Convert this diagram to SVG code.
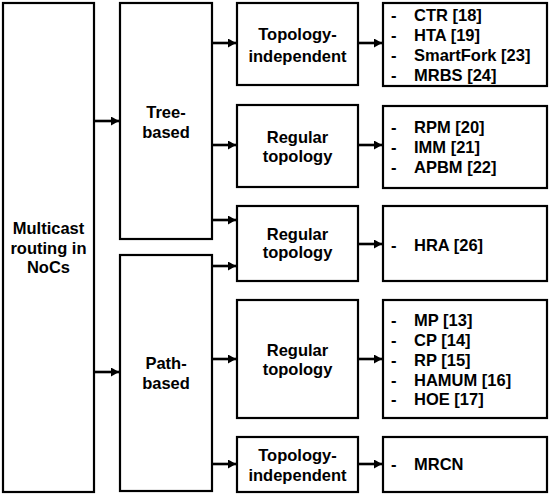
<svg xmlns="http://www.w3.org/2000/svg" width="550" height="494" viewBox="0 0 550 494">
<defs>
<marker id="ah" markerUnits="userSpaceOnUse" markerWidth="8" markerHeight="9" refX="8" refY="4.5" orient="auto">
<path d="M0,0 L8,4.5 L0,9 z" fill="#000"/>
</marker>
<style>
rect{fill:#fff;stroke:#000;stroke-width:2.2}
text{font-family:"Liberation Sans",Arial,sans-serif;font-weight:bold;font-size:16.5px;fill:#000}
.c{text-anchor:middle}
.e line{stroke:#000;stroke-width:2.6;marker-end:url(#ah)}
</style>
</defs>
<rect x="0" y="0" width="550" height="494" style="fill:#fff;stroke:none"/>
<g id="root"><rect x="3" y="3" width="91" height="489"/>
<text class="c" x="48.5" y="234">Multicast</text><text class="c" x="48.5" y="253.5">routing in</text><text class="c" x="48.5" y="273">NoCs</text></g>
<g id="tree"><rect x="120" y="3" width="92" height="236"/>
<text class="c" x="166" y="118">Tree-</text><text class="c" x="166" y="138">based</text></g>
<g id="path"><rect x="120" y="255" width="92" height="236"/>
<text class="c" x="166" y="369">Path-</text><text class="c" x="166" y="389">based</text></g>
<g id="t1"><rect x="237" y="3" width="121" height="82"/>
<text class="c" x="297.5" y="40">Topology-</text><text class="c" x="297.5" y="61.5">independent</text></g>
<g id="t2"><rect x="237" y="105" width="121" height="82"/>
<text class="c" x="297.5" y="142.5">Regular</text><text class="c" x="297.5" y="162">topology</text></g>
<g id="t3"><rect x="237" y="206" width="121" height="75"/>
<text class="c" x="297.5" y="240">Regular</text><text class="c" x="297.5" y="258">topology</text></g>
<g id="p1"><rect x="237" y="300" width="121" height="118"/>
<text class="c" x="297.5" y="356">Regular</text><text class="c" x="297.5" y="375">topology</text></g>
<g id="p2"><rect x="237" y="437" width="121" height="55"/>
<text class="c" x="297.5" y="461">Topology-</text><text class="c" x="297.5" y="481">independent</text></g>
<g id="l1"><rect x="383" y="3" width="164" height="83"/>
<text x="391" y="20.5">-</text><text x="414" y="20.5">CTR [18]</text>
<text x="391" y="40.5">-</text><text x="414" y="40.5">HTA [19]</text>
<text x="391" y="61">-</text><text x="414" y="61">SmartFork [23]</text>
<text x="391" y="81">-</text><text x="414" y="81">MRBS [24]</text></g>
<g id="l2"><rect x="383" y="106" width="164" height="82"/>
<text x="391" y="133">-</text><text x="414" y="133">RPM [20]</text>
<text x="391" y="153">-</text><text x="414" y="153">IMM [21]</text>
<text x="391" y="173">-</text><text x="414" y="173">APBM [22]</text></g>
<g id="l3"><rect x="383" y="206" width="164" height="75"/>
<text x="391" y="251">-</text><text x="414" y="251">HRA [26]</text></g>
<g id="l4"><rect x="383" y="300" width="164" height="118"/>
<text x="391" y="326">-</text><text x="414" y="326">MP [13]</text>
<text x="391" y="346">-</text><text x="414" y="346">CP [14]</text>
<text x="391" y="365.5">-</text><text x="414" y="365.5">RP [15]</text>
<text x="391" y="385.5">-</text><text x="414" y="385.5">HAMUM [16]</text>
<text x="391" y="405">-</text><text x="414" y="405">HOE [17]</text></g>
<g id="l5"><rect x="383" y="437" width="164" height="55"/>
<text x="391" y="470">-</text><text x="414" y="470">MRCN</text></g>
<g id="edges" class="e">
<line x1="95" y1="121" x2="119" y2="121"/>
<line x1="95" y1="372" x2="119" y2="372"/>
<line x1="213" y1="43" x2="236" y2="43"/>
<line x1="213" y1="145" x2="236" y2="145"/>
<line x1="213" y1="220" x2="236" y2="220"/>
<line x1="213" y1="266" x2="236" y2="266"/>
<line x1="213" y1="359" x2="236" y2="359"/>
<line x1="213" y1="464" x2="236" y2="464"/>
<line x1="359" y1="43" x2="382" y2="43"/>
<line x1="359" y1="145" x2="382" y2="145"/>
<line x1="359" y1="244" x2="382" y2="244"/>
<line x1="359" y1="359" x2="382" y2="359"/>
<line x1="359" y1="464" x2="382" y2="464"/>
</g>
</svg>
